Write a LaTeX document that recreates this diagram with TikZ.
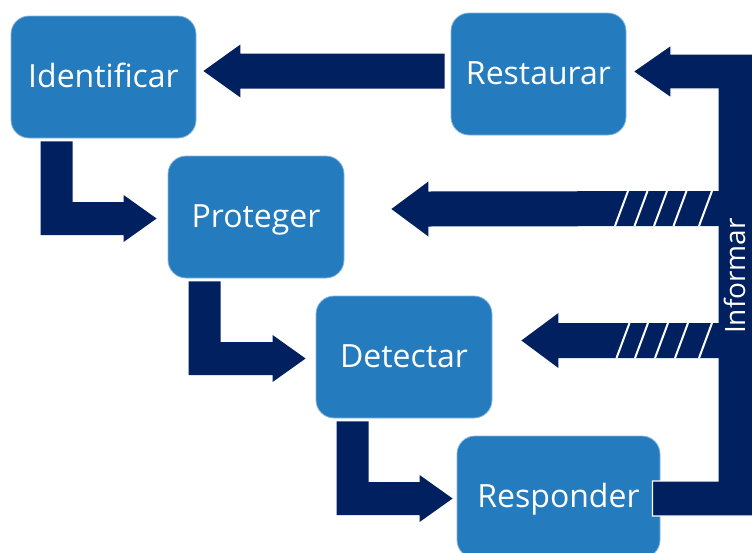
\documentclass[tikz,border=0pt]{standalone}
\usepackage{fontspec}
\setmainfont{Open Sans}
\usetikzlibrary{calc}
\definecolor{boxblue}{RGB}{36,123,190}
\definecolor{navy}{RGB}{0,32,96}
% L-shaped block arrow: #1 from node, #2 to node, #3 stem offset, #4 tip gap
\newcommand\lbend[4]{%
  \coordinate (lbS) at ($(#1.south west)+(#3,3)$);
  \coordinate (lbS2) at ($(lbS)+(32,0)$);
  \coordinate (lbT) at ($(#2.west)+(-#4,1.5)$);
  \fill[navy] (lbS) -- (lbS2) |- ($(lbT)+(-33,-16.5)$) -- ($(lbT)+(-33,-23.5)$) -- (lbT)
    -- ($(lbT)+(-33,23.5)$) -- ($(lbT)+(-33,16.5)$) -| (lbS) -- cycle;}
% straight block arrow pointing left: #1 tail, #2 tip, #3 shaft half, #4 head half, #5 head length
\newcommand\blockarrow[5]{%
  \fill[navy] ($(#1)+(0,-#3)$) -- ($(#2)+(#5,-#3)$) -- ($(#2)+(#5,-#4)$) -- (#2)
    -- ($(#2)+(#5,#4)$) -- ($(#2)+(#5,#3)$) -- ($(#1)+(0,#3)$) -- cycle;}
\begin{document}
\begin{tikzpicture}[x=1pt,y=-1pt,
  box/.style={rectangle, rounded corners=18pt, fill=boxblue, draw=white!45!boxblue,
    line width=0.8pt, inner sep=0pt, minimum height=122pt, text=white,
    font=\fontsize{32}{38}\selectfont, text height=23pt, text depth=3pt},
  hatch/.style={white, line width=2pt}]
\useasboundingbox (0,0) rectangle (752,552);
\clip (0,0) rectangle (752,552);
% boxes
\node[box, minimum width=185pt] (ident) at (103.5,77) {Identificar};
\node[box, minimum width=175pt] (rest) at (538.5,74) {Restaurar};
\node[box, minimum width=176pt] (prot) at (256,217) {Proteger};
\node[box, minimum width=176pt] (det) at (404,357) {Detectar};
\node[box, minimum width=203pt] (resp) at (558.5,497) {Responder};
% L arrows
\lbend{ident}{prot}{30}{11}
\lbend{prot}{det}{21}{10}
\lbend{det}{resp}{21}{4}
% Restaurar -> Identificar
\coordinate (riTail) at ($(rest.west)+(-6,-3)$);
\coordinate (riTip) at ($(ident.east)+(7,-6)$);
\blockarrow{riTail}{riTip}{17.5}{26.5}{37}
% Informar bar
\coordinate (infStart) at ($(resp.east)+(-8,-16)$);
\filldraw[fill=navy, draw=white, line width=1.2pt] (infStart) -- (718,481) -- (718,89) -- (671,89)
  -- (671,98) -- (633,71.5) -- (671,45) -- (671,54) -- (760,54) -- (760,516)
  -- ($(infStart)+(0,35)$) -- cycle;
% arrows into Proteger and Detectar
\coordinate (ptTail) at (721,208.5);
\coordinate (ptTip) at ($(prot.east)+(47,-8)$);
\blockarrow{ptTail}{ptTip}{17.5}{27.5}{37}
\coordinate (dtTail) at (721,340.5);
\coordinate (dtTip) at ($(det.east)+(29,-16.5)$);
\blockarrow{dtTail}{dtTip}{17.5}{27.5}{37}
% hatch marks
\foreach \t in {628,647.5,667,686.5,712} \draw[hatch] (\t,191) -- ++(-13,35);
\foreach \t in {629.5,648,668,688,712} \draw[hatch] (\t,323) -- ++(-13,35);
% label
\node[rotate=90, text=white, font=\fontsize{28}{32}\selectfont, inner sep=0pt] (inf) at (735,276) {Informar};
\end{tikzpicture}
\end{document}
